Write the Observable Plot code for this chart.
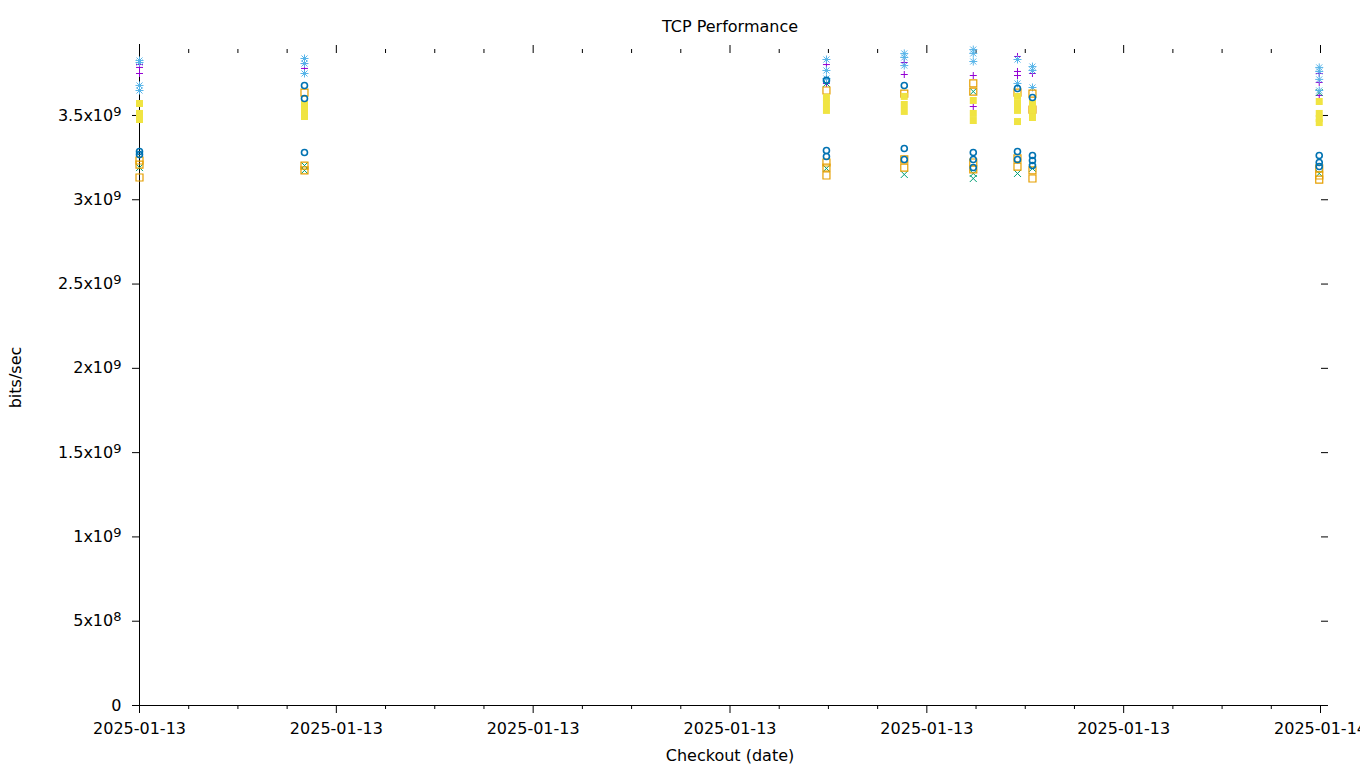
<!DOCTYPE html>
<html>
<head>
<meta charset="utf-8">
<script src="https://cdn.jsdelivr.net/npm/d3@7"></script>
<script src="https://cdn.jsdelivr.net/npm/@observablehq/plot@0.6"></script>
<style>
  html, body { margin: 0; padding: 0; background: #fff; }
  #chart svg { display: block; }
</style>
</head>
<body>
<div id="chart"></div>
<script>
// Checkout timestamps (UTC)
const checkouts = [
  "2025-01-13T12:00:00Z",
  "2025-01-13T13:40:35Z",
  "2025-01-13T18:58:48Z",
  "2025-01-13T19:46:15Z",
  "2025-01-13T20:28:19Z",
  "2025-01-13T20:55:16Z",
  "2025-01-13T21:04:24Z",
  "2025-01-13T23:59:14Z"
];

// Values in units of 1e9 bits/sec, one list per checkout
const series1 = [ // purple +
  [3.814, 3.802, 3.785, 3.749], [3.808, 3.779], [3.802, 3.690], [3.814, 3.743],
  [3.737, 3.553], [3.850, 3.761, 3.737], [3.749], [3.749, 3.696, 3.619]
];
const series2 = [ // green x
  [3.191], [3.203, 3.174], [3.690, 3.186], [3.150],
  [3.642, 3.156, 3.126], [3.156], [3.186], [3.636, 3.156]
];
const series3 = [ // light blue *
  [3.826, 3.814, 3.678, 3.648], [3.838, 3.808, 3.749], [3.832, 3.767, 3.719], [3.868, 3.844, 3.796],
  [3.891, 3.868, 3.820], [3.832, 3.690], [3.790, 3.767, 3.666], [3.785, 3.761, 3.714, 3.648]
];
const series4 = [ // orange open square
  [3.233, 3.209, 3.132], [3.636, 3.203, 3.174], [3.648, 3.221, 3.191, 3.144], [3.630, 3.239, 3.191],
  [3.690, 3.642, 3.221, 3.180], [3.636, 3.245, 3.197], [3.630, 3.535, 3.174, 3.126], [3.186, 3.144, 3.120]
];
const series5 = [ // yellow filled square
  [3.571, 3.512, 3.476], [3.565, 3.530, 3.494], [3.607, 3.571, 3.530], [3.613, 3.565, 3.524],
  [3.589, 3.512, 3.470], [3.613, 3.571, 3.530, 3.464], [3.571, 3.530, 3.488], [3.583, 3.512, 3.482, 3.458]
];
const series6 = [ // blue open circle
  [3.286, 3.268], [3.678, 3.601, 3.280], [3.708, 3.292, 3.257], [3.678, 3.304, 3.239],
  [3.280, 3.239, 3.191], [3.660, 3.286, 3.239], [3.607, 3.263, 3.233, 3.203], [3.263, 3.221, 3.197]
];

const yTicks = [0, 5e8, 1e9, 1.5e9, 2e9, 2.5e9, 3e9, 3.5e9];
const xStart = new Date("2025-01-13T12:00:00Z");
const xEnd = new Date("2025-01-14T00:00:00Z");
const majorTicks = d3.utcHour.every(2).range(xStart, new Date(+xEnd + 1));
const minorTicks = d3.utcMinute.every(30).range(xStart, new Date(+xEnd + 1)).filter(d => d.getUTCMinutes() !== 0 || d.getUTCHours() % 2 !== 0);

// gnuplot-like point symbols
const plusSym = {draw(c) { const s = 3.5; c.moveTo(-s, 0); c.lineTo(s, 0); c.moveTo(0, -s); c.lineTo(0, s); }};
const timesSym = {draw(c) { const s = 3.5; c.moveTo(-s, -s); c.lineTo(s, s); c.moveTo(-s, s); c.lineTo(s, -s); }};
const starSym = {draw(c) { const s = 4, t = 3; c.moveTo(-s, 0); c.lineTo(s, 0); c.moveTo(0, -s); c.lineTo(0, s);
  c.moveTo(-t, -t); c.lineTo(t, t); c.moveTo(-t, t); c.lineTo(t, -t); }};
const squareSym = {draw(c) { const s = 3.5; c.moveTo(-s, -s); c.lineTo(s, -s); c.lineTo(s, s); c.lineTo(-s, s); c.closePath(); }};
const circleSym = {draw(c) { const r = 3; c.moveTo(r, 0); c.arc(0, 0, r, 0, 2 * Math.PI); }};

function flatten(series) {
  const out = [];
  series.forEach((vals, i) => vals.forEach(v => out.push({t: new Date(checkouts[i]), v: v * 1e9})));
  return out;
}

function fmtY(v) {
  if (v === 0) return "0";
  const e = Math.floor(Math.log10(v));
  const m = +(v / Math.pow(10, e)).toFixed(3);
  return `${m}x10^${e}`;
}

const styles = [
  {data: series1, symbol: plusSym, stroke: "#9400d3", fill: "none", sw: 1},
  {data: series2, symbol: timesSym, stroke: "#009e73", fill: "none", sw: 1},
  {data: series3, symbol: starSym, stroke: "#56b4e9", fill: "none", sw: 1},
  {data: series4, symbol: squareSym, stroke: "#e69f00", fill: "none", sw: 1.2},
  {data: series5, symbol: squareSym, stroke: "none", fill: "#f0e442", sw: 1},
  {data: series6, symbol: circleSym, stroke: "#0072b2", fill: "none", sw: 1.6}
];

const chart = Plot.plot({
  width: 1360,
  height: 768,
  marginLeft: 139,
  marginRight: 40,
  marginTop: 44,
  marginBottom: 63,
  style: {fontFamily: "DejaVu Sans", fontSize: "16px", color: "#000", background: "#fff", overflow: "visible"},
  x: {type: "utc", domain: [xStart, xEnd]},
  y: {domain: [0, 3.921e9]},
  marks: [
    Plot.ruleX([xStart], {stroke: "#000"}),
    Plot.ruleY([0], {stroke: "#000"}),
    Plot.axisY({ticks: yTicks, tickSize: 7, tickPadding: 11, tickFormat: fmtY, label: null}),
    Plot.axisY({anchor: "right", ticks: yTicks, tickSize: 7, tickFormat: () => "", label: null}),
    Plot.axisX({ticks: majorTicks, tickSize: 8, tickPadding: 9, tickFormat: d3.utcFormat("%Y-%m-%d"), label: null}),
    Plot.axisX({ticks: minorTicks, tickSize: 4, tickFormat: () => "", label: null}),
    Plot.axisX({anchor: "top", ticks: majorTicks, tickSize: 8, dy: 8, tickFormat: () => "", label: null}),
    Plot.axisX({anchor: "top", ticks: minorTicks, tickSize: 4, dy: 8, tickFormat: () => "", label: null}),
    ...styles.map(s => Plot.dot(flatten(s.data), {
      x: "t", y: "v", symbol: s.symbol, stroke: s.stroke, fill: s.fill, strokeWidth: s.sw, r: 3.5
    })),
    Plot.text(["TCP Performance"], {frameAnchor: "top", dy: -18, lineAnchor: "middle", textAnchor: "middle", fontSize: 16}),
    Plot.text(["Checkout (date)"], {frameAnchor: "bottom", dy: 50, lineAnchor: "middle", textAnchor: "middle", fontSize: 16}),
    Plot.text(["bits/sec"], {frameAnchor: "left", dx: -124, dy: 2.5, rotate: -90, lineAnchor: "middle", textAnchor: "middle", fontSize: 16})
  ]
});

// Render exponents as real superscripts
d3.select(chart).selectAll("text").each(function() {
  const t = this.textContent;
  if (!t.includes("^")) return;
  const [base, exp] = t.split("^");
  const sel = d3.select(this);
  sel.text(base);
  sel.append("tspan").attr("dy", "-0.38em").attr("font-size", "13px").text(exp);
});

document.getElementById("chart").appendChild(chart);
</script>
</body>
</html>
